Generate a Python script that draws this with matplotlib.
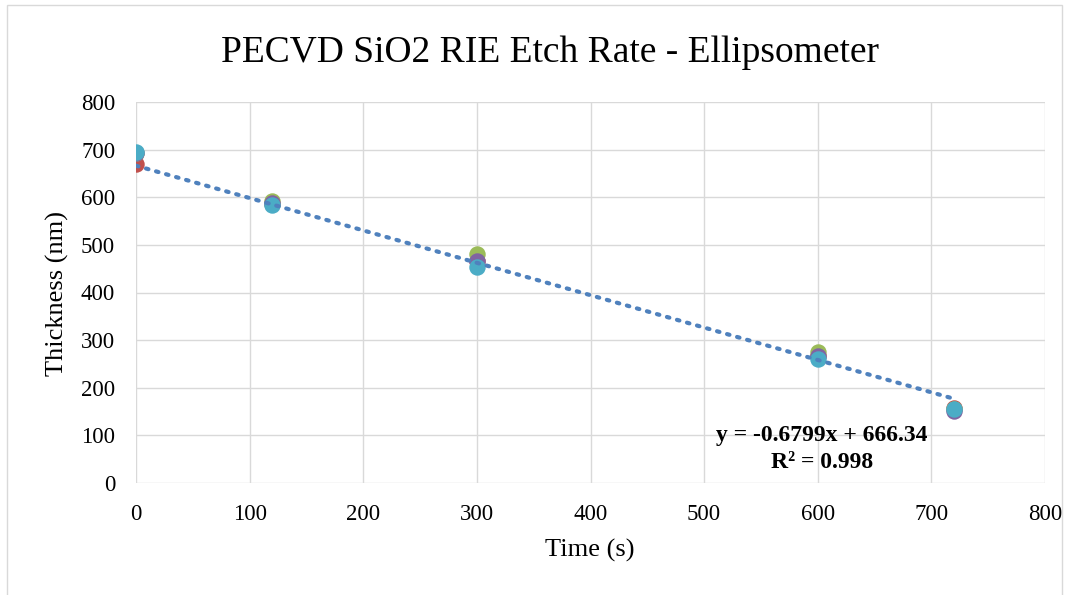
import matplotlib
matplotlib.use("Agg")
import matplotlib.pyplot as plt
from matplotlib.patches import Rectangle
import numpy as np

# ---- data ----
time_s = [0, 120, 300, 600, 720]
series_red = [669, 586, 466, 266, 158]
series_green = [693, 592, 481, 275, 156]
series_purple = [693, 587, 467, 267, 151]
series_teal = [694, 583, 454, 261, 155]
trend_slope = -0.6799
trend_intercept = 666.34
trend_r2 = 0.998
x_ticks = [0, 100, 200, 300, 400, 500, 600, 700, 800]
y_ticks = [0, 100, 200, 300, 400, 500, 600, 700, 800]

title = "PECVD SiO2 RIE Etch Rate - Ellipsometer"
xlabel = "Time (s)"
ylabel = "Thickness (nm)"

plt.rcParams['font.family'] = ['Liberation Serif', 'DejaVu Serif']

W, H = 1081, 595
fig = plt.figure(figsize=(W / 100, H / 100), dpi=100)
fig.patch.set_facecolor('white')

# chart area border
fig.add_artist(Rectangle((7 / W, -0.05), (1062 - 7) / W, 1 - 5 / H + 0.05,
                         transform=fig.transFigure, fill=False,
                         edgecolor='#D9D9D9', linewidth=1))

ax = fig.add_axes([136 / W, 1 - 483 / H, (1045 - 136) / W, (483 - 102) / H])
ax.set_xlim(0, 800)
ax.set_ylim(0, 800)
ax.set_xticks(x_ticks)
ax.set_yticks(y_ticks)
ax.tick_params(length=0, labelsize=16.5, colors='black')
ax.tick_params(axis='x', pad=15)
ax.tick_params(axis='y', pad=15)
for s in ax.spines.values():
    s.set_visible(False)
ax.grid(True, color='#D9D9D9', linewidth=1)
ax.set_axisbelow(True)

ms = 140
colors = ['#C0504D', '#9BBB59', '#8064A2', '#4BACC6']
for vals, c in zip([series_red, series_green, series_purple, series_teal], colors):
    ax.scatter(time_s, vals, s=ms, color=c, zorder=3, linewidths=0)

tx = np.array([min(time_s), max(time_s)])
ax.plot(tx, trend_slope * tx + trend_intercept, color='#4F81BD',
        linewidth=3, linestyle=(0, (0.6, 1.9)), dash_capstyle='round', zorder=4)

fig.text(550 / W, 1 - 53 / H, title, ha='center', va='center', fontsize=27)
fig.text(590 / W, 1 - 550 / H, xlabel, ha='center', va='center', fontsize=19)
fig.text(57 / W, 1 - 294 / H, ylabel, ha='center', va='center', fontsize=19, rotation=90)

fig.text(822 / W, 1 - 435 / H, f"y = {trend_slope}x + {trend_intercept}",
         ha='center', va='center', fontsize=17, fontweight='bold')
fig.text(822 / W, 1 - 462 / H, f"R² = {trend_r2}",
         ha='center', va='center', fontsize=17, fontweight='bold')

fig.savefig("out.png", dpi=100)
